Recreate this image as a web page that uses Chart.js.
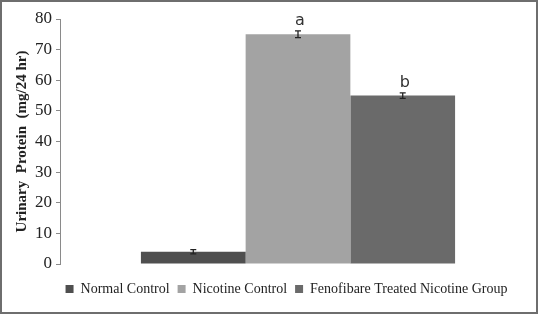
<!DOCTYPE html>
<html>
<head>
<meta charset="utf-8">
<script src="https://cdn.jsdelivr.net/npm/chart.js@4/dist/chart.umd.min.js"></script>
<style>
  html, body { margin: 0; padding: 0; background: #fff; }
  .frame {
    width: 538px;
    height: 314px;
    box-sizing: border-box;
    border: 2px solid #6e6e6e;
    position: relative;
  }
  canvas { position: absolute; left: 0; top: 0; }
</style>
</head>
<body>
<div class="frame">
  <canvas id="protein-chart" width="534" height="310"></canvas>
</div>
<script>
/* Data
================================================================ */

const groups = ['Normal Control', 'Nicotine Control', 'Fenofibare Treated Nicotine Group']
const proteinValues = [4, 75, 55]
const proteinErrors = [0.7, 1.1, 0.9]
const sigLetters = ['', 'a', 'b']
const barColors = ['#4f4f4f', '#a3a3a3', '#6a6a6a']
const yTicks = [0, 10, 20, 30, 40, 50, 60, 70, 80]

/* Plugins
================================================================ */

// error bars + significance letters drawn on top of each bar
const errorBars = {
  id: 'errorBars',
  afterDatasetsDraw(chart) {
    const ctx = chart.ctx
    const y = chart.scales.y
    ctx.save()
    chart.data.datasets.forEach((ds, i) => {
      const bar = chart.getDatasetMeta(i).data[0]
      const v = ds.data[0]
      const e = proteinErrors[i]
      const top = y.getPixelForValue(v + e)
      const bottom = y.getPixelForValue(v - e)
      ctx.strokeStyle = '#222'
      ctx.lineWidth = 1.3
      ctx.beginPath()
      ctx.moveTo(bar.x, top)
      ctx.lineTo(bar.x, bottom)
      ctx.moveTo(bar.x - 3, top)
      ctx.lineTo(bar.x + 3, top)
      ctx.moveTo(bar.x - 3, bottom)
      ctx.lineTo(bar.x + 3, bottom)
      ctx.stroke()

      if (sigLetters[i]) {
        ctx.fillStyle = '#333'
        ctx.font = '16px "DejaVu Sans"'
        ctx.textAlign = 'center'
        ctx.textBaseline = 'alphabetic'
        ctx.fillText(sigLetters[i], bar.x + 2, top - 6)
      }
    })
    ctx.restore()
  }
}

// nudge the legend a bit right/down, like the original figure
const legendNudge = {
  id: 'legendNudge',
  afterLayout(chart) {
    const lg = chart.legend
    lg.left += 11
    lg.right += 11
    lg.top += 2
    lg.bottom += 2
  }
}

/* Chart
================================================================ */

const proteinData = {
  labels: [''],
  datasets: groups.map((g, i) => ({
    label: g,
    data: [proteinValues[i]],
    backgroundColor: barColors[i],
    borderWidth: 0
  }))
}

const proteinOptions = {
  responsive: false,
  animation: false,
  layout: {
    padding: { top: 17, right: 0, left: 13, bottom: 8 }
  },
  datasets: {
    bar: {
      barPercentage: 1,
      categoryPercentage: 0.66
    }
  },
  scales: {
    x: {
      grid: { display: false },
      border: { display: false },
      ticks: { display: false }
    },
    y: {
      min: 0,
      max: 80,
      afterBuildTicks: (axis) => {
        axis.ticks = yTicks.map(v => ({ value: v }))
      },
      border: { display: true, color: '#8a8a8a', width: 1 },
      grid: {
        drawOnChartArea: false,
        drawTicks: true,
        tickLength: 4,
        color: '#8a8a8a'
      },
      ticks: {
        color: '#222',
        padding: 4,
        font: { family: '"Liberation Serif"', size: 17 }
      },
      title: {
        display: true,
        text: 'Urinary  Protein  (mg/24 hr)',
        color: '#222',
        padding: { top: 0, bottom: 1 },
        font: { family: '"Liberation Serif"', size: 15, weight: 'bold', lineHeight: 1 }
      }
    }
  },
  plugins: {
    legend: {
      position: 'bottom',
      labels: {
        boxWidth: 8,
        boxHeight: 8,
        padding: 8,
        color: '#222',
        font: { family: '"Liberation Serif"', size: 14 }
      }
    },
    tooltip: { enabled: false }
  }
}

const proteinChart = new Chart(document.getElementById('protein-chart'), {
  type: 'bar',
  data: proteinData,
  options: proteinOptions,
  plugins: [errorBars, legendNudge]
})
</script>
</body>
</html>
